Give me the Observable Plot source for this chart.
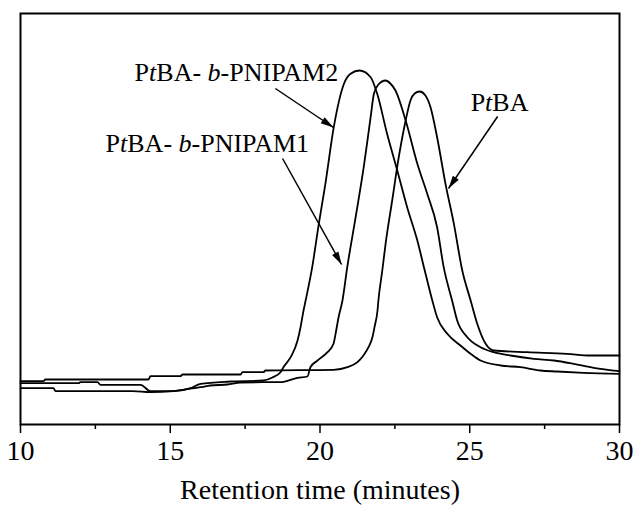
<!DOCTYPE html>
<html><head><meta charset="utf-8">
<script src="https://cdn.jsdelivr.net/npm/d3@7"></script>
<script src="https://cdn.jsdelivr.net/npm/@observablehq/plot@0.6"></script>
<style>
body{margin:0;background:#fff}
#chart svg, #chart svg text, #chart svg tspan { font-family: "Liberation Serif", "DejaVu Serif", serif !important; }
</style>
</head><body><div id="chart"></div>
<script>
// PtBA-b-PNIPAM2 (leftmost trace)
const pnipam2Time = [10.00,11.94,12.00,12.57,12.67,14.01,14.34,15.11,15.68,16.01,17.01,18.11,18.41,18.68,18.78,19.02,19.25,19.35,19.45,19.52,19.74,19.96,20.18,20.46,20.80,21.02,21.32,21.69,21.91,22.24,22.58,22.91,23.25,23.47,23.75,23.91,24.25,24.69,25.03,25.36,26.03,26.69,27.36,27.92,28.80,30.00];
const pnipam2Signal = [41.3,41.3,42.3,42.3,39.7,39.7,33.3,33.3,36.3,40.7,43,44,47,52.3,57.3,67.3,84,97.3,114,124,157.3,200.7,240.7,297.3,340.7,350.7,354,347.3,330.7,290.7,254,217.3,184,157.3,124,107.3,90.7,79,70.7,64,59,57.3,54,53,51.7,50.7];
// PtBA-b-PNIPAM1 (middle trace)
const pnipam1Time = [10.00,11.10,11.17,13.74,14.34,15.11,15.41,16.01,16.34,16.91,17.35,18.11,18.68,19.25,19.58,19.68,19.92,20.25,20.45,20.52,20.62,20.75,20.91,21.19,21.46,21.69,21.80,21.95,22.19,22.35,22.52,22.86,23.25,23.58,23.91,24.13,24.41,24.58,24.92,25.36,25.80,26.36,27.14,27.81,28.47,29.14,30.00];
const pnipam1Signal = [36.3,36.3,33.3,33.3,32.3,33.3,34.7,37.3,39,40,42,42.3,42.3,46.7,48,57.3,64,72.3,80.7,90.7,107.3,124,157.3,207.3,257.3,307.3,330.7,340,344,341,334,304,260.7,230.7,197.3,157.3,124,104,87.3,77.3,72.3,69,65.7,64,60.7,56.7,53.3];
// PtBA (rightmost trace)
const ptbaTime = [10.00,10.77,10.83,14.27,14.34,15.34,15.41,17.35,17.41,18.11,18.18,20.45,20.92,21.25,21.45,21.62,21.75,21.82,21.92,21.95,22.08,22.19,22.41,22.63,22.86,23.02,23.16,23.33,23.52,23.69,23.91,24.19,24.47,24.75,25.03,25.25,25.53,25.80,26.92,28.25,29.03,30.00];
const ptbaSignal = [43.3,43.3,45,45,48.3,48.3,50,50,52.3,52.3,54,54.7,57.3,62.3,69,77.3,87.3,97.3,114,124,154,180.7,224,267.3,304,324,331,333,329,317.3,287.3,240.7,200.7,154,124,100.7,80.7,74,72.3,70.7,69,69];

const xTicks = [10, 15, 20, 25, 30];
const xMinorTicks = [12.5, 17.5, 22.5, 27.5];
const xTitle = "Retention time (minutes)";

const labelText = ["PtBA- b-PNIPAM2", "PtBA- b-PNIPAM1", "PtBA"];
const labelTime = [13.81, 12.84, 25.03];
const labelSignal = [344, 273, 314];

const arrowFromTime = [18.51, 18.75, 25.93];
const arrowFromSignal = [336, 266, 308];
const arrowToTime = [20.45, 20.72, 24.29];
const arrowToSignal = [297, 160, 236];

// ---- build tables
const seriesList = [
  {name: "PtBA-b-PNIPAM2", t: pnipam2Time, s: pnipam2Signal},
  {name: "PtBA-b-PNIPAM1", t: pnipam1Time, s: pnipam1Signal},
  {name: "PtBA", t: ptbaTime, s: ptbaSignal}
];
const rows = seriesList.flatMap(d => d.t.map((t, i) => ({series: d.name, time: t, signal: d.s[i]})));
const labels = labelText.map((text, i) => ({text, time: labelTime[i], signal: labelSignal[i]}));
const arrows = arrowFromTime.map((t, i) => ({x1: t, y1: arrowFromSignal[i], x2: arrowToTime[i], y2: arrowToSignal[i]}));

const W = 638, H = 506, mL = 20, mR = 19, mT = 13, mB = 82;
const yMax = 411;
const kx = (W - mL - mR) / 20, ky = (H - mT - mB) / yMax;
const arrowHead = {draw(ctx) { const L = 13, w = 3.6; ctx.moveTo(0, 0); ctx.lineTo(-w, L); ctx.lineTo(w, L); ctx.closePath(); }};
const angle = d => Math.atan2((d.x2 - d.x1) * kx, (d.y2 - d.y1) * ky) * 180 / Math.PI;

const serif = "Liberation Serif";
const chart = Plot.plot({
  width: W, height: H,
  marginLeft: mL, marginRight: mR, marginTop: mT, marginBottom: mB,
  style: {fontFamily: serif, background: "white", color: "black"},
  x: {domain: [10, 30]},
  y: {domain: [0, yMax], axis: null},
  marks: [
    Plot.axisX({ticks: xMinorTicks, tickSize: 5, tickFormat: () => "", stroke: "black", strokeWidth: 1.5, label: null}),
    Plot.axisX({ticks: xTicks, tickSize: 9, tickPadding: 7, fontSize: 28, stroke: "black", strokeWidth: 1.5, fill: "black", label: null}),
    Plot.frame({stroke: "black", strokeWidth: 2}),
    Plot.line(rows, {x: "time", y: "signal", z: "series", stroke: "black", strokeWidth: 1.8, curve: "monotone-x"}),
    Plot.link(arrows, {x1: "x1", y1: "y1", x2: "x2", y2: "y2", stroke: "black", strokeWidth: 1.5}),
    Plot.dot(arrows, {x: "x2", y: "y2", symbol: arrowHead, r: 5, fill: "black", stroke: "none", rotate: angle}),
    Plot.text(labels, {x: "time", y: "signal", text: "text", textAnchor: "start", lineAnchor: "bottom", fontSize: 26, fill: "black"}),
    Plot.text([xTitle], {frameAnchor: "bottom", dy: 74, lineAnchor: "bottom", fontSize: 28, fill: "black"})
  ]
});
document.getElementById("chart").appendChild(chart);

// italicize the "t" of PtBA and the "b" of -b- in the labels
const NS = "http://www.w3.org/2000/svg";
for (const el of chart.querySelectorAll("text")) {
  const s = el.textContent;
  if (!labelText.includes(s)) continue;
  el.textContent = "";
  const parts = s.match(/^(P)(t)(BA)(?:(- )(b)(-.*))?$/);
  if (!parts) { el.textContent = s; continue; }
  const seq = [[parts[1], false], [parts[2], true], [parts[3], false]];
  if (parts[4]) seq.push([parts[4], false], [parts[5], true], [parts[6], false]);
  for (const [str, it] of seq) {
    const ts = document.createElementNS(NS, "tspan");
    if (it) ts.setAttribute("font-style", "italic");
    ts.textContent = str;
    el.appendChild(ts);
  }
}
</script>
</body></html>
